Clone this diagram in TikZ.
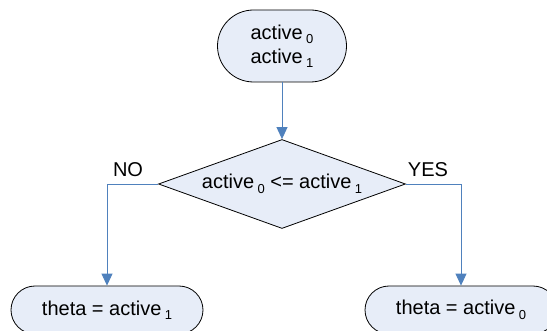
\documentclass[tikz,border=0pt]{standalone}
\usepackage{fontspec}
\setmainfont{Liberation Sans}
\usetikzlibrary{shapes.misc,shapes.geometric,arrows.meta}
\definecolor{flowfill}{RGB}{231,237,248}
\definecolor{flowline}{RGB}{79,129,189}
\newcommand{\sub}[1]{\,\raisebox{-0.22em}{\fontsize{13}{13}\selectfont #1}}
\begin{document}
\begin{tikzpicture}[x=1pt,y=-1pt,
  every node/.style={font=\fontsize{20}{24}\selectfont},
  terminal/.style={rounded rectangle, draw=black, line width=0.8pt, fill=flowfill,
    inner sep=0pt, align=center},
  decision/.style={diamond, draw=black, line width=0.8pt, fill=flowfill, inner sep=0pt},
  flow/.style={draw=flowline, line width=0.9pt, -{Triangle[length=12pt,width=11pt]}},
  branchlabel/.style={inner sep=0pt}]
  \useasboundingbox (0,0) rectangle (547,331);
  \clip (0,0) rectangle (547,331);

  \node[terminal, minimum width=129pt, minimum height=72pt] (start) at (282,46)
    {active\sub{0}\\active\sub{1}};
  % the diamond is drawn empty so its size stays fixed; its text sits on top
  \node[decision, minimum width=247pt, minimum height=89pt] (test) at (282,184) {};
  \node[inner sep=0pt] (testtext) at (test.center) {active\sub{0} <= active\sub{1}};
  \node[terminal, minimum width=192pt, minimum height=48pt] (no) at (107,310)
    {theta = active\sub{1}};
  \node[terminal, minimum width=192pt, minimum height=48pt] (yes) at (461,310)
    {theta = active\sub{0}};

  \draw[flow] (start.south) -- (test.north);
  \draw[flow] (test.west) -| (no.north);
  \draw[flow] (test.east) -| (yes.north);

  \node[branchlabel] (nolabel) at (128,170) {NO};
  \node[branchlabel] (yeslabel) at (428,170) {YES};
\end{tikzpicture}
\end{document}
